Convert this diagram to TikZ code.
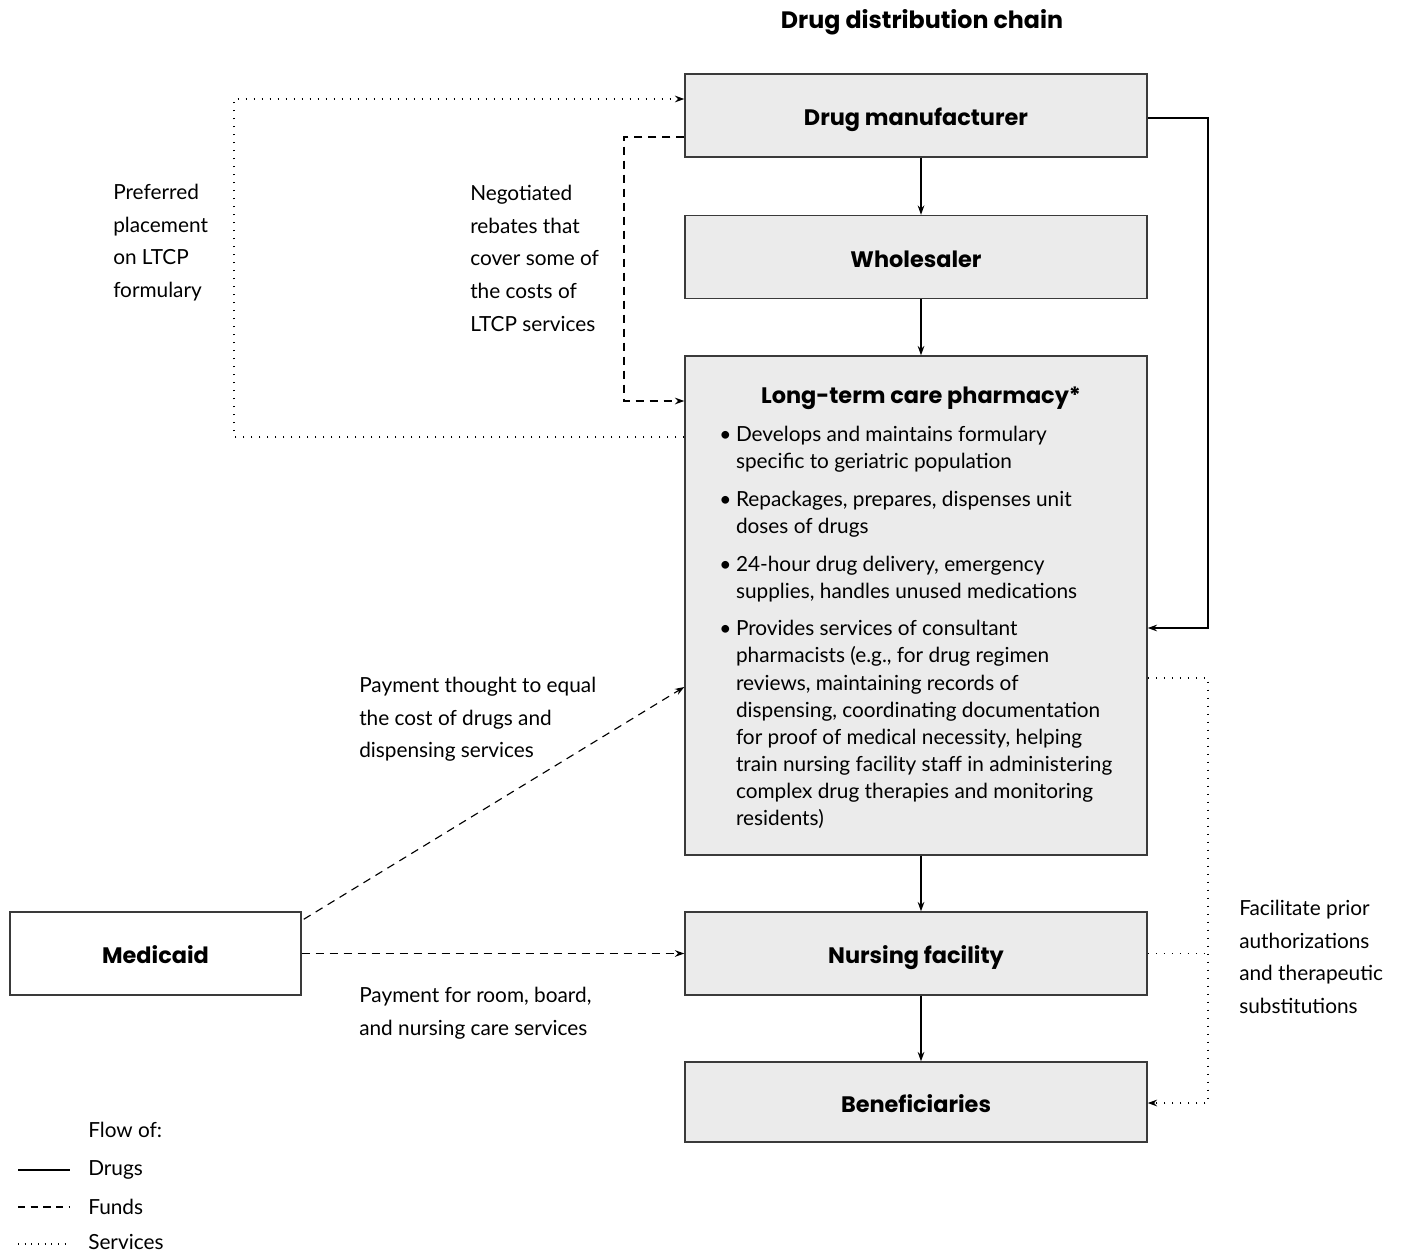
\documentclass[tikz,border=0pt]{standalone}
\usepackage{fontspec}
\setmainfont{Lato}
\newfontfamily\headfont{Poppins}
\usetikzlibrary{arrows.meta}
\definecolor{boxfill}{HTML}{EBEBEB}
\definecolor{boxline}{HTML}{3A3A3A}
\newcommand{\lblfont}{\fontsize{15.6}{24.5}\selectfont}
\newcommand{\boxfont}{\fontsize{15.6}{20.33}\selectfont}
\newcommand{\hdfont}{\headfont\bfseries\fontsize{16.8}{20}\selectfont}
\begin{document}
\begin{tikzpicture}[x=0.75pt,y=-0.75pt,
  box/.style={draw=boxline,line width=1.1pt,fill=boxfill,minimum width=346.5pt,minimum height=62.25pt,inner sep=0pt,text height=15.5pt,text depth=0pt,font=\hdfont},
  lbl/.style={anchor=north west,inner sep=0pt,align=left,font=\lblfont},
  tip/.style={-{Stealth[length=7pt,width=5pt]}},
  drug/.style={tip,line width=0.9pt},
  fund/.style={tip,line width=0.85pt,dash pattern=on 6pt off 4.5pt},
  serv/.style={tip,line width=0.85pt,dash pattern=on 0.9pt off 5.1pt},
  leg/.style={line width=0.8pt}
]
\useasboundingbox (0,0) rectangle (1401,1255);

% title
\node[font=\headfont\bfseries\fontsize{17.8}{20}\selectfont,inner sep=0pt] (title) at (922,22) {Drug distribution chain};

% boxes
\node[box] (man) at (916,115.5) {Drug manufacturer};
\node[box] (who) at (916,257) {Wholesaler};
\node[box,minimum height=374.25pt] (ltcp) at (916,605.5) {};
\node[box] (nf) at (916,953.5) {Nursing facility};
\node[box,minimum height=60pt] (ben) at (916,1102) {Beneficiaries};
\node[box,fill=white,minimum width=218.25pt] (med) at (155.5,953.5) {Medicaid};

% LTCP contents
\node[font=\hdfont,inner sep=0pt] (ltt) at (921,398) {Long-term care pharmacy*};
\node[anchor=north west,inner sep=0pt,font=\boxfont] (ltb) at (719,422) {%
\renewcommand{\arraystretch}{1}%
\begin{tabular}{@{}l@{\hspace{3.5pt}}l@{}}
\textbullet & Develops and maintains formulary\\
 & specific to geriatric population\\[8pt]
\textbullet & Repackages, prepares, dispenses unit\\
 & doses of drugs\\[8pt]
\textbullet & 24-hour drug delivery, emergency\\
 & supplies, handles unused medications\\[8pt]
\textbullet & Provides services of consultant\\
 & pharmacists (e.g., for drug regimen\\
 & reviews, maintaining records of\\
 & dispensing, coordinating documentation\\
 & for proof of medical necessity, helping\\
 & train nursing facility staff in administering\\
 & complex drug therapies and monitoring\\
 & residents)
\end{tabular}};

% coordinates
\coordinate (ax) at (921,0);
\coordinate (pl) at (234,437);
\coordinate (pt) at (234,99);
\coordinate (nb) at (624,137);
\coordinate (nt) at (624,401);
\coordinate (rt) at (1208,118);
\coordinate (rb) at (1208,628);
\coordinate (st) at (1208,678);
\coordinate (sb) at (1208,1103);
\coordinate (sn) at (1208,953.5);
\coordinate (da) at (0,687);

% drugs
\draw[drug] (man.south -| ax) -- (who.north -| ax);
\draw[drug] (who.south -| ax) -- (ltcp.north -| ax);
\draw[drug] (ltcp.south -| ax) -- (nf.north -| ax);
\draw[drug] (nf.south -| ax) -- (ben.north -| ax);
\draw[drug] (man.east |- rt) -- (rt) -- (rb) -- (ltcp.east |- rb);

% services
\draw[serv] (ltcp.west |- pl) -- (pl) -- (pt) -- (man.west |- pt);
\draw[serv] (ltcp.east |- st) -- (st) -- (sb) -- (ben.east |- sb);
\draw[serv,-] (nf.east) -- (sn);

% funds
\draw[fund] (man.west |- nb) -- (nb) -- (nt) -- (ltcp.west |- nt);
\draw[fund] ([xshift=1.5pt,yshift=-6pt]med.north east) -- (ltcp.west |- da);
\draw[fund] (med.east) -- (nf.west);

% labels
\node[lbl] (l1) at (113,184) {Preferred\\placement\\on LTCP\\formulary};
\node[lbl] (l2) at (470,185) {Negotiated\\rebates that\\cover some of\\the costs of\\LTCP services};
\node[lbl] (l3) at (359,677) {Payment thought to equal\\the cost of drugs and\\dispensing services};
\node[lbl] (l4) at (359,987) {Payment for room, board,\\and nursing care services};
\node[lbl] (l5) at (1239,900) {Facilitate prior\\authorizations\\and therapeutic\\substitutions};

% legend
\node[lbl] (lg) at (88,1122) {Flow of:};
\coordinate (g1a) at (18,1170); \coordinate (g1b) at (70,1170);
\coordinate (g2a) at (18,1207); \coordinate (g2b) at (70,1207);
\coordinate (g3a) at (18,1244); \coordinate (g3b) at (70,1244);
\draw[leg] (g1a) -- (g1b);
\draw[leg,dash pattern=on 5.5pt off 4pt] (g2a) -- (g2b);
\draw[leg,dash pattern=on 0.8pt off 4.2pt] (g3a) -- (g3b);
\node[anchor=west,inner sep=0pt,font=\lblfont] (ld) at (88,1170) {Drugs};
\node[anchor=west,inner sep=0pt,font=\lblfont] (lf) at (88,1207) {Funds};
\node[anchor=west,inner sep=0pt,font=\lblfont] (ls) at (88,1242) {Services};
\end{tikzpicture}
\end{document}
